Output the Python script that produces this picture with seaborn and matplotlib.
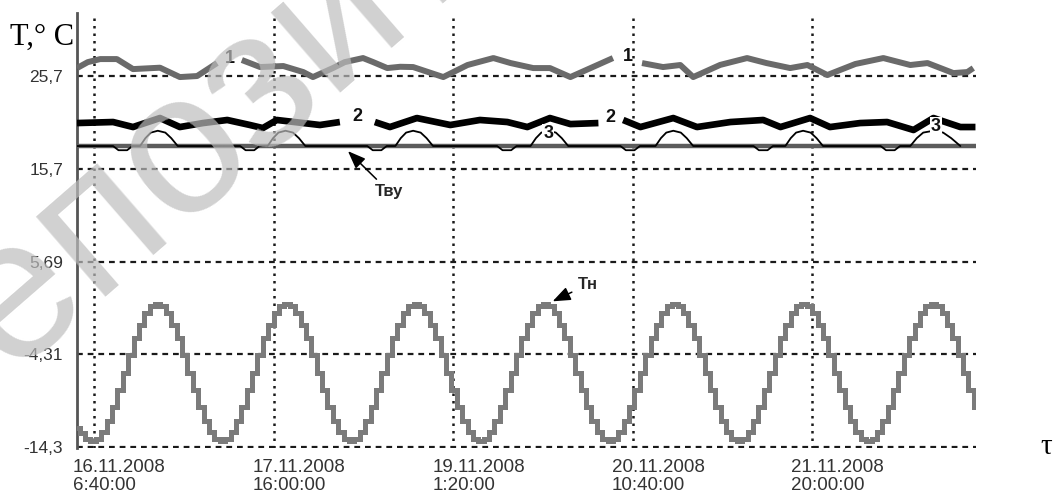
import numpy as np
import pandas as pd
import matplotlib
matplotlib.use("Agg")
import matplotlib.pyplot as plt
import seaborn as sns
from matplotlib.transforms import ScaledTranslation, blended_transform_factory

# ---------------- data (time = hours from 16.11.2008 00:00) ----------------
tick_hours = [6.667, 40.0, 73.333, 106.667, 140.0]
tick_labels = ["16.11.2008\n6:40:00", "17.11.2008\n16:00:00", "19.11.2008\n1:20:00",
               "20.11.2008\n10:40:00", "21.11.2008\n20:00:00"]
ytick_values = [25.7, 15.7, 5.69, -4.31, -14.3]
ytick_labels = ["25,7", "15,7", "5,69", "-4,31", "-14,3"]

# outdoor temperature Tн (hourly, stepped)
tn_hours = np.arange(3.5, 171.0, 1.0)
tn_values = [
    -12.3, -12.8, -13.4, -13.7, -13.4, -12.7, -11.5, -10.0, -8.2, -6.3, -4.4, -2.6,
    -1.1, 0.1, 0.9, 1.1, 0.9, 0.1, -1.1, -2.6, -4.4, -6.3, -8.2, -10.0,
    -11.5, -12.7, -13.4, -13.7, -13.4, -12.7, -11.5, -10.0, -8.2, -6.3, -4.4, -2.6,
    -1.1, 0.1, 0.9, 1.1, 0.9, 0.1, -1.1, -2.6, -4.4, -6.3, -8.2, -10.0,
    -11.5, -12.7, -13.4, -13.7, -13.4, -12.7, -11.5, -10.0, -8.2, -6.3, -4.4, -2.6,
    -1.1, 0.1, 0.9, 1.1, 0.9, 0.1, -1.1, -2.6, -4.4, -6.3, -8.2, -10.0,
    -11.5, -12.7, -13.4, -13.7, -13.4, -12.7, -11.5, -10.0, -8.2, -6.3, -4.4, -2.6,
    -1.1, 0.1, 0.9, 1.1, 0.9, 0.1, -1.1, -2.6, -4.4, -6.3, -8.2, -10.0,
    -11.5, -12.7, -13.4, -13.7, -13.4, -12.7, -11.5, -10.0, -8.2, -6.3, -4.4, -2.6,
    -1.1, 0.1, 0.9, 1.1, 0.9, 0.1, -1.1, -2.6, -4.4, -6.3, -8.2, -10.0,
    -11.5, -12.7, -13.4, -13.7, -13.4, -12.7, -11.5, -10.0, -8.2, -6.3, -4.4, -2.6,
    -1.1, 0.1, 0.9, 1.1, 0.9, 0.1, -1.1, -2.6, -4.4, -6.3, -8.2, -10.0,
    -11.5, -12.7, -13.4, -13.7, -13.4, -12.7, -11.5, -10.0, -8.2, -6.3, -4.4, -2.6,
    -1.1, 0.1, 0.9, 1.1, 0.9, 0.1, -1.1, -2.6, -4.4, -6.3, -8.2, -10.0,
]

# inner wall-corner temperature Tву (constant)
tvu_hours = [3.5, 170.4]
tvu_values = [18.15, 18.15]

# curve 1 (three segments)
c1_a_h = [3.5, 5.5, 7.8, 10.9, 13.9, 18.9, 22.6, 25.8, 29.5]
c1_a_v = [26.56, 27.2, 27.53, 27.53, 26.45, 26.6, 25.59, 25.7, 27.1]
c1_b_h = [34.1, 37.5, 41.8, 45.5, 47.3, 51.0, 53.2, 56.6, 58.5, 61.1, 63.5, 65.9,
          71.5, 76.0, 80.8, 84.0, 88.2, 91.3, 95.1, 103.0]
c1_b_v = [27.43, 26.67, 26.78, 26.13, 25.59, 26.56, 27.2, 27.64, 27.2, 26.56, 26.7, 26.67,
          25.59, 26.89, 27.64, 27.1, 26.56, 26.56, 25.59, 27.64]
c1_c_h = [108.4, 112.3, 115.5, 117.9, 122.9, 127.9, 131.5, 135.9, 139.1, 142.8, 148.0,
          153.2, 158.2, 161.4, 166.2, 168.8, 169.9]
c1_c_v = [27.1, 26.67, 26.89, 25.59, 26.9, 27.64, 27.1, 26.56, 26.89, 25.81, 27.0,
          27.64, 26.89, 27.1, 26.02, 26.13, 26.56]

# curve 2 (three segments)
c2_a_h = [3.5, 10.2, 13.9, 18.9, 22.6, 26.9, 31.4, 35.6, 38.0, 40.6, 45.5, 48.6, 52.3]
c2_a_v = [20.63, 20.74, 20.2, 21.17, 20.2, 20.63, 20.96, 20.42, 20.09, 20.96, 20.63, 20.42, 20.74]
c2_b_h = [58.8, 61.6, 66.6, 72.8, 78.3, 83.4, 87.1, 91.3, 95.1, 100.3]
c2_b_v = [20.74, 20.2, 21.17, 20.42, 20.96, 20.74, 20.2, 21.17, 20.52, 20.63]
c2_c_h = [104.9, 108.1, 114.2, 118.6, 124.8, 130.9, 134.1, 139.6, 143.3, 148.9, 153.9,
          158.8, 162.5, 167.5, 170.3]
c2_c_v = [20.96, 20.2, 21.17, 20.2, 20.74, 20.96, 20.2, 21.17, 20.2, 20.63, 20.74,
          19.88, 21.17, 20.2, 20.2]

# curve 3
c3_h = [3.5,
        10.2, 11.2, 12.8, 13.8, 15.2, 16.2, 17.2, 18.5, 19.9, 21.0, 22.2,
        33.8, 34.8, 36.4, 37.4, 38.9, 39.9, 40.9, 42.2, 43.6, 44.7, 45.9,
        57.4, 58.4, 60.0, 61.0, 62.6, 63.6, 64.6, 65.9, 67.3, 68.4, 69.6,
        81.5, 82.5, 84.1, 85.1, 87.7, 88.7, 89.7, 91.0, 92.4, 93.5, 94.7,
        104.4, 105.4, 107.0, 108.0, 110.9, 111.9, 112.9, 114.2, 115.6, 116.7, 117.9,
        129.1, 130.1, 131.7, 132.7, 135.0, 136.0, 137.0, 138.3, 139.7, 140.8, 142.0,
        152.7, 153.7, 155.3, 156.3, 158.2, 159.4, 160.6, 162.5, 164.3, 165.8, 167.5]
c3_v = [18.15] + [18.15, 17.7, 17.7, 18.15, 18.15, 19.0, 19.6, 19.8, 19.6, 19.0, 18.15] * 7

# ---------------- figure ----------------
sns.set_theme(style="white")
plt.rcParams["font.family"] = ["Liberation Sans", "DejaVu Sans"]

fig = plt.figure(figsize=(10.54, 5.01), dpi=100)
ax = fig.add_axes([77 / 1054, 1 - 448 / 501, (976 - 77) / 1054, (448 - 13) / 501])

# grid
for yv in ytick_values:
    ax.axhline(yv, color="#1a1a1a", lw=1.6, ls=(0, (2.6, 2.2)), zorder=1)
for xv in tick_hours:
    ax.axvline(xv, color="#1a1a1a", lw=1.8, ls=(0, (1.0, 2.0)), zorder=1)

gray1 = "#6a6a6a"
for h, v in [(c1_a_h, c1_a_v), (c1_b_h, c1_b_v), (c1_c_h, c1_c_v)]:
    sns.lineplot(x=h, y=v, ax=ax, color=gray1, lw=4.3, sort=False,
                 solid_capstyle="butt", solid_joinstyle="round", zorder=3)
for h, v in [(c2_a_h, c2_a_v), (c2_b_h, c2_b_v), (c2_c_h, c2_c_v)]:
    sns.lineplot(x=h, y=v, ax=ax, color="black", lw=4.8, sort=False,
                 solid_capstyle="butt", solid_joinstyle="round", zorder=4)
sns.lineplot(x=tvu_hours, y=tvu_values, ax=ax, color="#5c5c5c", lw=3.2, zorder=3)
sns.lineplot(x=c3_h, y=c3_v, ax=ax, color="black", lw=1.3, sort=False, zorder=4)
sns.lineplot(x=tn_hours, y=tn_values, ax=ax, color="#7b7b7b", lw=3.6,
             drawstyle="steps-mid", solid_joinstyle="miter", zorder=3)

ax.set_xlim(3.5, 170.4)
ax.set_ylim(-14.42, 32.5)
ax.set_xticks(tick_hours)
ax.set_xticklabels([])
lab_trans = blended_transform_factory(ax.transData, ax.transAxes) + \
    ScaledTranslation(-0.21, -0.11, fig.dpi_scale_trans)
for xv, txt in zip(tick_hours, tick_labels):
    ax.text(xv, 0, txt, transform=lab_trans, ha="left", va="top", fontsize=13.5,
            color="#333333", linespacing=1.1, clip_on=False)
ax.set_yticks(ytick_values)
ax.set_yticklabels(ytick_labels, fontsize=12.5, color="#333333")
ax.tick_params(axis="x", length=0, pad=0)
ax.tick_params(axis="y", length=0, pad=10)
ax.set_xlabel("")
ax.set_ylabel("")
for s in ["top", "right", "bottom"]:
    ax.spines[s].set_visible(False)
ax.spines["left"].set_color("#555555")
ax.spines["left"].set_linewidth(2)

# curve labels
lab_kw = dict(fontsize=13, fontweight="bold", color="#111111", ha="center", va="center", zorder=6)
ax.text(31.8, 27.6, "1", **lab_kw)
ax.text(105.7, 27.8, "1", **lab_kw)
ax.text(55.6, 21.3, "2", **lab_kw)
ax.text(102.5, 21.2, "2", **lab_kw)
ax.text(91.0, 19.5, "3", bbox=dict(boxstyle="square,pad=0.05", fc="white", ec="none"), **lab_kw)
ax.text(162.9, 20.3, "3", bbox=dict(boxstyle="square,pad=0.05", fc="white", ec="none"), **lab_kw)

arrow_kw = dict(arrowstyle="-|>,head_length=0.9,head_width=0.35", color="black", lw=1.1,
                shrinkA=2, shrinkB=0)
ax.annotate("Тву", xy=(53.8, 17.6), xytext=(61.5, 13.2), fontsize=12, fontweight="bold",
            ha="center", va="center", arrowprops=arrow_kw, zorder=6)
ax.annotate("Тн", xy=(91.8, 1.4), xytext=(98.3, 3.2), fontsize=12, fontweight="bold",
            ha="center", va="center", arrowprops=arrow_kw, zorder=6)

fig.text(10 / 1054, 1 - 37 / 501, "T,° C", family=["Liberation Serif", "DejaVu Serif"],
         fontsize=22, va="center", ha="left", color="black")
fig.text(1040 / 1054, 1 - 447 / 501, "τ", family=["Liberation Serif", "DejaVu Serif"],
         fontsize=21, va="center", ha="left", color="black")

# watermark
fig.text(-84 / 1054, 1 - 461 / 501, "Репозиторий БНТУ", fontsize=145, rotation=41,
         rotation_mode="anchor", ha="left", va="baseline", color="#bdbdbd", alpha=0.7,
         family=["Liberation Sans", "DejaVu Sans"], zorder=10)

fig.savefig("out.png", dpi=100)
